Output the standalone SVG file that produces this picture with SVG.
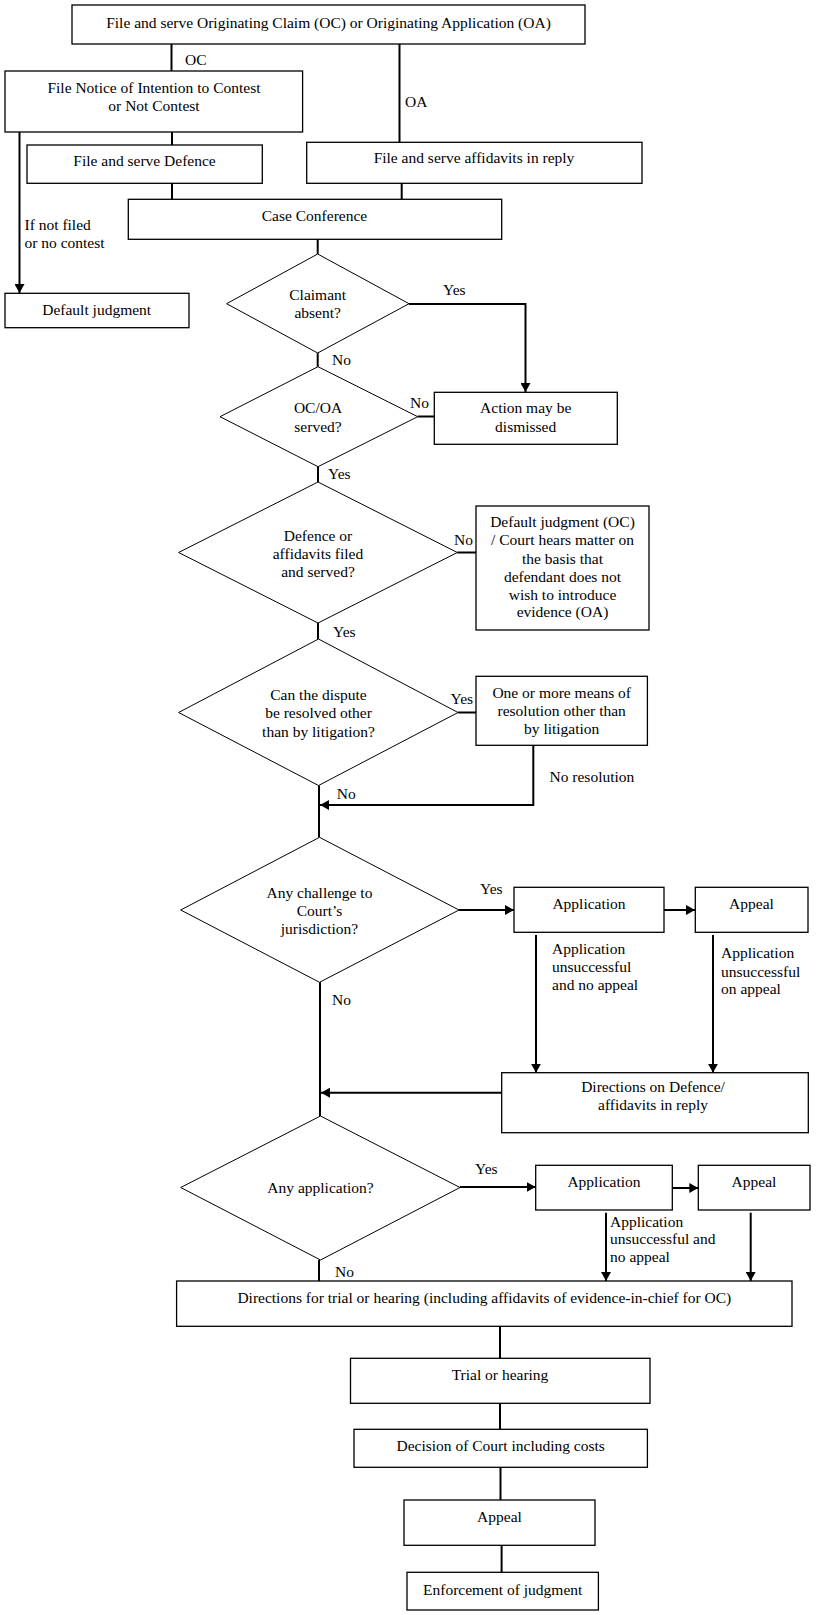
<svg xmlns="http://www.w3.org/2000/svg" width="817" height="1615" viewBox="0 0 817 1615">
<defs>
<marker id="ah" markerUnits="userSpaceOnUse" markerWidth="10" markerHeight="10" refX="9" refY="5" orient="auto">
<path d="M0,0 L9,5 L0,10 Z" fill="#000"/>
</marker>
</defs>
<rect width="817" height="1615" fill="#fff"/>
<g id="nodes" font-family="Liberation Serif" font-size="15.5" text-anchor="middle">
<g id="n-start"><rect x="72" y="5" width="513" height="39" fill="#fff" stroke="#000" stroke-width="1.3"/><text x="328.5" y="28">File and serve Originating Claim (OC) or Originating Application (OA)</text></g>
<g id="n-notice"><rect x="5" y="71" width="297.6" height="61" fill="#fff" stroke="#000" stroke-width="1.3"/><text x="154" y="93">File Notice of Intention to Contest</text><text x="154" y="111">or Not Contest</text></g>
<g id="n-defence"><rect x="27" y="145" width="235.3" height="38.3" fill="#fff" stroke="#000" stroke-width="1.3"/><text x="144.5" y="166">File and serve Defence</text></g>
<g id="n-affidavits"><rect x="306.7" y="142.3" width="335.3" height="41" fill="#fff" stroke="#000" stroke-width="1.3"/><text x="474" y="163">File and serve affidavits in reply</text></g>
<g id="n-case"><rect x="128.3" y="199.3" width="373.4" height="40" fill="#fff" stroke="#000" stroke-width="1.3"/><text x="314.5" y="221">Case Conference</text></g>
<g id="n-default"><rect x="5" y="293.3" width="184" height="34.4" fill="#fff" stroke="#000" stroke-width="1.3"/><text x="96.7" y="315">Default judgment</text></g>
<g id="d-claimant"><polygon points="317.7,254 409,303.7 317.7,353 226.6,303.7" fill="#fff" stroke="#000" stroke-width="1"/><text x="317.7" y="300">Claimant</text><text x="317.7" y="318">absent?</text></g>
<g id="n-dismissed"><rect x="434.3" y="392.3" width="183" height="52" fill="#fff" stroke="#000" stroke-width="1.3"/><text x="525.7" y="413">Action may be</text><text x="525.7" y="431.5">dismissed</text></g>
<g id="d-served"><polygon points="318,366.7 417.7,416.7 318,466.7 220,416.7" fill="#fff" stroke="#000" stroke-width="1"/><text x="318" y="413">OC/OA</text><text x="318" y="431.5">served?</text></g>
<g id="d-defence"><polygon points="318,482 457.3,552.5 318,623 178.6,552.5" fill="#fff" stroke="#000" stroke-width="1"/><text x="318" y="541">Defence or</text><text x="318" y="559">affidavits filed</text><text x="318" y="577">and served?</text></g>
<g id="n-defaultoc"><rect x="476" y="506" width="173" height="124" fill="#fff" stroke="#000" stroke-width="1.3"/><text x="562.5" y="527">Default judgment (OC)</text><text x="562.5" y="545">/ Court hears matter on</text><text x="562.5" y="563.5">the basis that</text><text x="562.5" y="581.5">defendant does not</text><text x="562.5" y="599.5">wish to introduce</text><text x="562.5" y="617">evidence (OA)</text></g>
<g id="d-resolve"><polygon points="318.5,639 458,712.5 318.5,785.5 178.6,712.5" fill="#fff" stroke="#000" stroke-width="1"/><text x="318.5" y="700">Can the dispute</text><text x="318.5" y="718">be resolved other</text><text x="318.5" y="737">than by litigation?</text></g>
<g id="n-means"><rect x="476" y="676.3" width="171.4" height="69" fill="#fff" stroke="#000" stroke-width="1.3"/><text x="561.7" y="697.5">One or more means of</text><text x="561.7" y="715.5">resolution other than</text><text x="561.7" y="734">by litigation</text></g>
<g id="d-jurisdiction"><polygon points="319.5,837.3 459,910 319.5,982.3 180.7,910" fill="#fff" stroke="#000" stroke-width="1"/><text x="319.5" y="898">Any challenge to</text><text x="319.5" y="916">Court’s</text><text x="319.5" y="934">jurisdiction?</text></g>
<g id="n-app1"><rect x="514" y="887.3" width="150" height="45" fill="#fff" stroke="#000" stroke-width="1.3"/><text x="589" y="908.5">Application</text></g>
<g id="n-appeal1"><rect x="695.3" y="887.3" width="112.7" height="45" fill="#fff" stroke="#000" stroke-width="1.3"/><text x="751.5" y="908.5">Appeal</text></g>
<g id="n-directions-def"><rect x="501.7" y="1072.7" width="306.6" height="60" fill="#fff" stroke="#000" stroke-width="1.3"/><text x="653" y="1092">Directions on Defence/</text><text x="653" y="1110">affidavits in reply</text></g>
<g id="d-anyapp"><polygon points="320.5,1116 460,1187.5 320.5,1260 180.7,1187.5" fill="#fff" stroke="#000" stroke-width="1"/><text x="320.5" y="1193">Any application?</text></g>
<g id="n-app2"><rect x="535.7" y="1165.3" width="136.6" height="44.7" fill="#fff" stroke="#000" stroke-width="1.3"/><text x="604" y="1187">Application</text></g>
<g id="n-appeal2"><rect x="698.3" y="1165.3" width="111.7" height="44.7" fill="#fff" stroke="#000" stroke-width="1.3"/><text x="754" y="1187">Appeal</text></g>
<g id="n-directions-trial"><rect x="176.6" y="1281" width="615.4" height="45.3" fill="#fff" stroke="#000" stroke-width="1.3"/><text x="484.3" y="1303">Directions for trial or hearing (including affidavits of evidence-in-chief for OC)</text></g>
<g id="n-trial"><rect x="350.5" y="1358.3" width="299.5" height="45" fill="#fff" stroke="#000" stroke-width="1.3"/><text x="500" y="1380">Trial or hearing</text></g>
<g id="n-decision"><rect x="354" y="1429.3" width="293.4" height="38" fill="#fff" stroke="#000" stroke-width="1.3"/><text x="500.7" y="1451">Decision of Court including costs</text></g>
<g id="n-appeal3"><rect x="404" y="1500" width="191" height="45.3" fill="#fff" stroke="#000" stroke-width="1.3"/><text x="499.5" y="1521.5">Appeal</text></g>
<g id="n-enforce"><rect x="407" y="1572.3" width="191.4" height="37.7" fill="#fff" stroke="#000" stroke-width="1.3"/><text x="502.7" y="1595">Enforcement of judgment</text></g>
</g>
<g id="connectors" fill="none" stroke="#000" stroke-width="2">
<path d="M171.5,44 V71"/>
<path d="M399.5,44 V143"/>
<path d="M172,132 V145"/>
<path d="M172,183 V199"/>
<path d="M401.7,183 V199"/>
<path d="M19.5,132 V293" marker-end="url(#ah)"/>
<path d="M317.7,239 V254"/>
<path d="M409,304 H525.5 V392" marker-end="url(#ah)"/>
<path d="M317.7,353 V366.7"/>
<path d="M417.7,416.5 H434.3"/>
<path d="M318,466.7 V482"/>
<path d="M457.3,552.5 H476"/>
<path d="M318,623 V639"/>
<path d="M458,712.5 H476"/>
<path d="M533.3,745.3 V805 H320" marker-end="url(#ah)"/>
<path d="M319,785.5 V837.3"/>
<path d="M459,910 H514" marker-end="url(#ah)"/>
<path d="M664,910 H695" marker-end="url(#ah)"/>
<path d="M536,935 V1072.7" marker-end="url(#ah)"/>
<path d="M713,935 V1072.7" marker-end="url(#ah)"/>
<path d="M320,982.3 V1116"/>
<path d="M501.7,1092.7 H321" marker-end="url(#ah)"/>
<path d="M460,1187 H535.7" marker-end="url(#ah)"/>
<path d="M672.3,1188 H698.3" marker-end="url(#ah)"/>
<path d="M606,1212.7 V1281" marker-end="url(#ah)"/>
<path d="M750.7,1212.7 V1281" marker-end="url(#ah)"/>
<path d="M319,1260 V1281"/>
<path d="M500,1326.3 V1358.3"/>
<path d="M500,1403.3 V1429.3"/>
<path d="M500.5,1467.3 V1500"/>
<path d="M501.6,1545.3 V1572.3"/>
</g>
<g id="connector-labels" font-family="Liberation Serif" font-size="15.5" fill="#000">
<text x="185" y="65">OC</text>
<text x="405" y="107">OA</text>
<text x="24.5" y="230">If not filed</text>
<text x="24.5" y="248">or no contest</text>
<text x="443" y="295">Yes</text>
<text x="332" y="365">No</text>
<text x="410" y="408">No</text>
<text x="328" y="479">Yes</text>
<text x="454" y="545">No</text>
<text x="333" y="637">Yes</text>
<text x="450.5" y="704">Yes</text>
<text x="549.5" y="781.5">No resolution</text>
<text x="336.7" y="798.5">No</text>
<text x="480" y="894">Yes</text>
<text x="552" y="954">Application</text>
<text x="552" y="972">unsuccessful</text>
<text x="552" y="990">and no appeal</text>
<text x="721" y="958">Application</text>
<text x="721" y="976.5">unsuccessful</text>
<text x="721" y="994">on appeal</text>
<text x="332" y="1005">No</text>
<text x="475" y="1173.5">Yes</text>
<text x="610" y="1226.5">Application</text>
<text x="610" y="1244">unsuccessful and</text>
<text x="610" y="1261.5">no appeal</text>
<text x="335" y="1277">No</text>
</g>
</svg>
